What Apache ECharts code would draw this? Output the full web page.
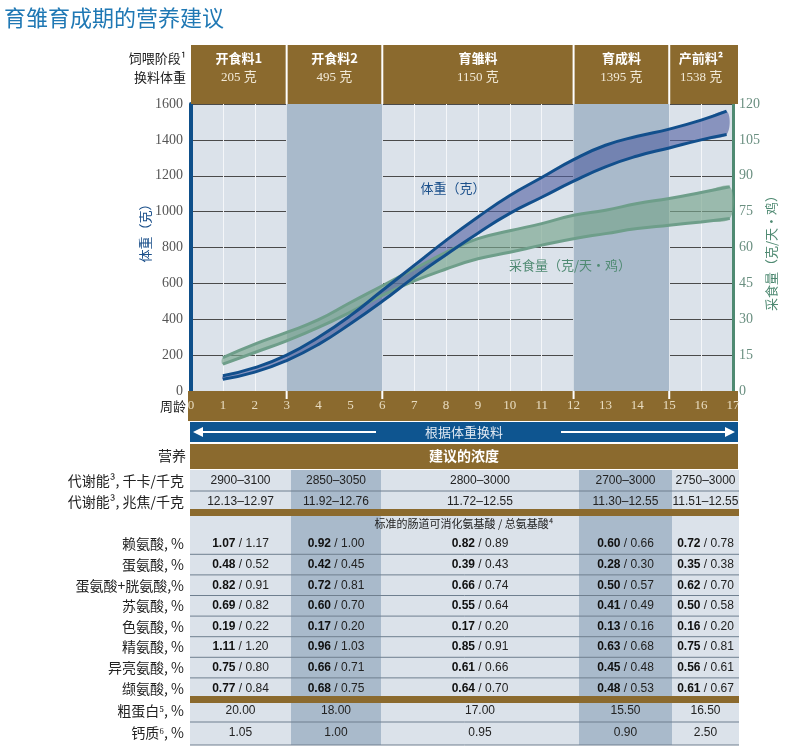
<!DOCTYPE html>
<html><head><meta charset="utf-8">
<script src="https://cdn.jsdelivr.net/npm/echarts@6/dist/echarts.min.js"></script>
<style>html,body{margin:0;padding:0;background:#fff}#c{width:789px;height:747px}</style>
</head><body><div id="c"></div>
<script>
const weeks = [0,1,2,3,4,5,6,7,8,9,10,11,12,13,14,15,16,17];
const bwX = [1,2,3,4,5,6,7,8,9,10,11,12,13,14,15,16,16.8];
const bwUpper = [85,130,200,300,420,560,700,840,970,1090,1190,1290,1370,1420,1460,1510,1560];
const bwLower = [65,105,170,260,375,500,635,760,880,990,1080,1170,1250,1310,1355,1400,1430];
const fiX = [1,2,3,4,5,6,7,8,9,10,11,12,13,14,15,16,16.9];
const fiUpper = [14,19.6,24.5,29.8,37,44,51,58,63.7,67,70,73.5,75.6,78.4,80.5,83,85.4];
const fiLower = [11.2,16.1,21,26.6,33,40,46,51,55.3,58,61,63.7,65.8,67.9,69.3,70.7,72.1];
const leftTicks = [0,200,400,600,800,1000,1200,1400,1600];
const rightTicks = [0,15,30,45,60,75,90,105,120];
const stageNames = ['开食料1','开食料2','育雏料','育成料','产前料²'];
const stageWeights = ['205 克','495 克','1150 克','1395 克','1538 克'];
const stageWeeks = [[0,3],[3,6],[6,12],[12,15],[15,17]];
const meKcal = ['2900–3100','2850–3050','2800–3000','2700–3000','2750–3000'];
const meMJ = ['12.13–12.97','11.92–12.76','11.72–12.55','11.30–12.55','11.51–12.55'];
const aminoNames = ['赖氨酸, %','蛋氨酸, %','蛋氨酸+胱氨酸,%','苏氨酸, %','色氨酸, %','精氨酸, %','异亮氨酸, %','缬氨酸, %'];
const aminoDig = [
 ['1.07','0.92','0.82','0.60','0.72'],['0.48','0.42','0.39','0.28','0.35'],['0.82','0.72','0.66','0.50','0.62'],
 ['0.69','0.60','0.55','0.41','0.50'],['0.19','0.17','0.17','0.13','0.16'],['1.11','0.96','0.85','0.63','0.75'],
 ['0.75','0.66','0.61','0.45','0.56'],['0.77','0.68','0.64','0.48','0.61']];
const aminoTot = [
 ['1.17','1.00','0.89','0.66','0.78'],['0.52','0.45','0.43','0.30','0.38'],['0.91','0.81','0.74','0.57','0.70'],
 ['0.82','0.70','0.64','0.49','0.58'],['0.22','0.20','0.20','0.16','0.20'],['1.20','1.03','0.91','0.68','0.81'],
 ['0.80','0.71','0.66','0.48','0.61'],['0.84','0.75','0.70','0.53','0.67']];
const protein = ['20.00','18.00','17.00','15.50','16.50'];
const calcium = ['1.05','1.00','0.95','0.90','2.50'];

const chart = echarts.init(document.getElementById('c'));
const X0=191, X1=733, Y0=104, Y1=391;
const wx = w => X0 + (X1-X0)*w/17;
const colX = [190,291,381,579,672,739];
const brown='#8b6a2e', light='#dbe2ea', dark='#a9bacb';
const g = [];
const rect=(x,y,w,h,fill,z)=>g.push({type:'rect',shape:{x,y,width:w,height:h},style:{fill},z:z||1,silent:true});
const text=(x,y,t,st,extra)=>g.push(Object.assign({type:'text',x,y,style:Object.assign({text:t,verticalAlign:'middle',fontFamily:'Liberation Sans, Noto Sans CJK SC'},st),z:5,silent:true},extra||{}));

text(4,18,'育雏育成期的营养建议',{fill:'#1f78b4',fontSize:22,fontFamily:'Noto Sans CJK SC'});
rect(191,45,547,59,brown);
stageWeeks.forEach((s,i)=>{
  const cx=(wx(s[0])+Math.min(wx(s[1]),738))/2;
  text(cx,58,stageNames[i],{fill:'#fff',fontSize:13,fontWeight:'bold',align:'center',fontFamily:'Noto Sans CJK SC'});
  text(cx,78,stageWeights[i],{fill:'#f2ead8',fontSize:13,align:'center',fontFamily:'Liberation Serif, Noto Sans CJK SC'});
  if(i>0) rect(wx(s[0])-1,45,2,59,'#fff',3);
});
text(186,58,'饲喂阶段¹',{fill:'#222',fontSize:13,align:'right',fontFamily:'Noto Sans CJK SC'});
text(186,77,'换料体重',{fill:'#222',fontSize:13,align:'right',fontFamily:'Noto Sans CJK SC'});
rect(188,391,550,30,brown,1);
weeks.forEach(w=>text(wx(w),406,String(w),{fill:'#e8dcc0',fontSize:13,align:'center',fontFamily:'Liberation Serif'}));
[3,6,12,15].forEach(w=>rect(wx(w)-1,391,2,8,'#fff',3));
text(186,406,'周龄',{fill:'#222',fontSize:13,align:'right',fontFamily:'Noto Sans CJK SC'});
rect(190,422,548,20,'#0e5590');
text(464,432,'根据体重换料',{fill:'#dfe8f2',fontSize:13,align:'center',fontFamily:'Noto Sans CJK SC'});
g.push({type:'line',shape:{x1:196,y1:432,x2:376,y2:432},style:{stroke:'#fff',lineWidth:2},z:5});
g.push({type:'polygon',shape:{points:[[193,432],[203,427],[203,437]]},style:{fill:'#fff'},z:5});
g.push({type:'line',shape:{x1:561,y1:432,x2:728,y2:432},style:{stroke:'#fff',lineWidth:2},z:5});
g.push({type:'polygon',shape:{points:[[735,432],[725,427],[725,437]]},style:{fill:'#fff'},z:5});
rect(190,444,548,25,brown);
text(464,456,'建议的浓度',{fill:'#fff',fontSize:14,fontWeight:'bold',align:'center',fontFamily:'Noto Sans CJK SC'});
text(186,456,'营养',{fill:'#222',fontSize:14,align:'right',fontFamily:'Noto Sans CJK SC'});
const colBg=(y,h)=>{for(let i=0;i<5;i++) rect(colX[i],y,colX[i+1]-colX[i],h,i%2?dark:light);};
colBg(470,39);
rect(190,509,549,7,brown,2);
colBg(516,180);
rect(190,696,549,7,brown,2);
colBg(703,42);
const sep=y=>g.push({type:'line',shape:{x1:190,y1:y,x2:739,y2:y},style:{stroke:'#6f7f8f',lineWidth:1},z:3});
const cellT=(i,y,t,st)=>text((colX[i]+colX[i+1])/2,y,t,Object.assign({fill:'#222',fontSize:12,align:'center'},st||{}));
const lab=(y,t)=>text(184,y,t,{fill:'#222',fontSize:14,align:'right',fontFamily:'Noto Sans CJK SC'});
lab(481,'代谢能³, 千卡/千克'); lab(502,'代谢能³, 兆焦/千克');
meKcal.forEach((v,i)=>cellT(i,481,v)); meMJ.forEach((v,i)=>cellT(i,502,v));
sep(491);
text(464,524,'标准的肠道可消化氨基酸 / 总氨基酸⁴',{fill:'#222',fontSize:11,align:'center',fontFamily:'Noto Sans CJK SC'});
aminoNames.forEach((n,r)=>{
  const y=544+r*20.6;
  lab(y,n);
  for(let i=0;i<5;i++) cellT(i,y,'{b|'+aminoDig[r][i]+'} / '+aminoTot[r][i],{rich:{b:{fontWeight:'bold',fontSize:12,fill:'#111',fontFamily:'Liberation Sans'}}});
  if(r>0) sep(y-10.3);
});
lab(711,'粗蛋白⁵, %'); lab(733,'钙质⁶, %');
protein.forEach((v,i)=>cellT(i,711,v)); calcium.forEach((v,i)=>cellT(i,733,v));
sep(722); sep(745);
text(145,230,'体重（克）',{fill:'#1a4f8a',fontSize:13,align:'center',fontFamily:'Noto Sans CJK SC'},{rotation:Math.PI/2});
text(771,250,'采食量（克/天・鸡）',{fill:'#4f8a72',fontSize:13,align:'center',fontFamily:'Noto Sans CJK SC'},{rotation:Math.PI/2});
text(453,188,'体重（克）',{fill:'#1a4f8a',fontSize:13,align:'center',fontFamily:'Noto Sans CJK SC'});
text(570,265,'采食量（克/天・鸡）',{fill:'#4f8a72',fontSize:13,align:'center',fontFamily:'Noto Sans CJK SC'});

const pairs=(xs,ys)=>xs.map((x,i)=>[x,ys[i]]);
function band(xs,up,lo,axis,color){
  return {type:'custom',yAxisIndex:axis,data:[0],z:2,silent:true,
    renderItem:(params,api)=>{
      const top=xs.map((x,i)=>api.coord([x,up[i]]));
      const bot=xs.map((x,i)=>api.coord([x,lo[i]])).reverse();
      return {type:'polygon',shape:{points:top.concat(bot),smooth:0.35},style:{fill:color}};
    }};
}
const edge=(xs,ys,axis,color)=>({type:'line',yAxisIndex:axis,smooth:true,symbol:'none',data:pairs(xs,ys),lineStyle:{color,width:3},z:4});
chart.setOption({
  animation:false,
  grid:{left:X0,right:789-X1,top:Y0,bottom:747-Y1,show:true,backgroundColor:light,borderWidth:0},
  xAxis:{type:'value',min:0,max:17,interval:1,
    axisLine:{show:false},axisTick:{show:false},
    splitLine:{show:true,lineStyle:{color:'#f4f6f9',width:1}},
    axisLabel:{show:false}},
  yAxis:[
    {type:'value',min:0,max:1600,interval:200,position:'left',
     axisLine:{show:true,lineStyle:{color:'#0e4f8a',width:4}},axisTick:{show:false},
     splitLine:{lineStyle:{color:'#4a4a4a',width:1}},
     axisLabel:{color:'#555',fontSize:14,fontFamily:'Liberation Serif',margin:8,formatter:v=>leftTicks.includes(v)?v:''}},
    {type:'value',min:0,max:120,interval:15,position:'right',
     axisLine:{show:true,lineStyle:{color:'#4f8a72',width:3}},axisTick:{show:false},splitLine:{show:false},
     axisLabel:{color:'#6a8f80',fontSize:14,fontFamily:'Liberation Serif',margin:6,formatter:v=>rightTicks.includes(v)?v:''}}
  ],
  graphic:g,
  series:[
    {type:'line',data:[],markArea:{silent:true,itemStyle:{color:dark},data:[[{xAxis:3},{xAxis:6}],[{xAxis:12},{xAxis:15}]]},z:0},
    band(fiX,fiUpper,fiLower,1,'rgba(120,165,140,0.65)'),
    edge(fiX,fiLower,1,'#6e9e8a'), edge(fiX,fiUpper,1,'#6e9e8a'),
    band(bwX,bwUpper,bwLower,0,'rgba(80,95,160,0.6)'),
    edge(bwX,bwLower,0,'#124f8c'), edge(bwX,bwUpper,0,'#124f8c')
  ]
});
</script></body></html>
